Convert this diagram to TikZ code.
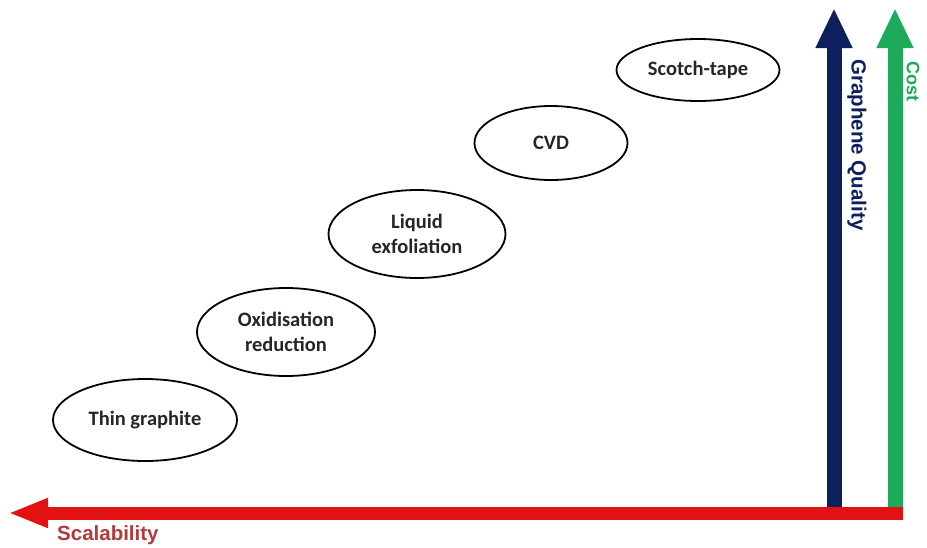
\documentclass[tikz,border=0pt]{standalone}
\usepackage{fontspec}
\setmainfont{Carlito}
\newfontfamily\axisfont{Liberation Sans}
\usetikzlibrary{shapes.geometric,arrows.meta}
\definecolor{qualnavy}{HTML}{0E1F5E}
\definecolor{costgreen}{HTML}{1DAA5A}
\definecolor{scalered}{HTML}{E21212}
\definecolor{scaletext}{HTML}{B23A3A}
\begin{document}
\begin{tikzpicture}[x=1pt,y=-1pt,
  method/.style={ellipse,draw=black,line width=1.8pt,inner sep=0pt,
    font=\fontsize{20.5}{25}\selectfont\bfseries,align=center,text=black!85},
  axisarrow/.style={line width=15pt,-{Triangle[width=34pt,length=40pt]}},
  axislabel/.style={font=\axisfont\bfseries\fontsize{20.5}{24}\selectfont}]
\useasboundingbox (0,0) rectangle (927,547);
\fill[white] (0,0) rectangle (927,547);

% production methods
\node[method,minimum width=184pt,minimum height=82pt] (thin) at (145,420) {Thin graphite};
\node[method,minimum width=178pt,minimum height=88pt] (oxid) at (286,332) {Oxidisation\\reduction};
\node[method,minimum width=177pt,minimum height=88pt] (liq) at (417,234) {Liquid\\exfoliation};
\node[method,minimum width=153pt,minimum height=74pt] (cvd) at (551,143) {CVD};
\node[method,minimum width=163pt,minimum height=62pt] (tape) at (698,70) {Scotch-tape};

% axes
\coordinate (qbase) at (834,512);
\coordinate (qtip) at (834,8);
\coordinate (cbase) at (895,512);
\coordinate (ctip) at (895,8);
\coordinate (sbase) at (903,513);
\coordinate (stip) at (8,513);
\draw[axisarrow,draw=qualnavy,fill=qualnavy] (qbase) -- (qtip);
\draw[axisarrow,draw=costgreen,fill=costgreen] (cbase) -- (ctip);
\draw[line width=13pt,draw=scalered,-{Triangle[width=27pt,length=40pt]}] (sbase) -- (stip);

\node[axislabel,text=qualnavy,rotate=-90,anchor=west] (qlab) at (857,56) {Graphene Quality};
\node[text=costgreen,rotate=-90,anchor=west,font=\axisfont\bfseries\fontsize{18}{20}\selectfont] (clab) at (913,58) {Cost};
\node[text=scaletext,font=\axisfont\bfseries\fontsize{20.5}{24}\selectfont,anchor=west,inner sep=0pt] (slab) at (57,535) {Scalability};
\end{tikzpicture}
\end{document}
